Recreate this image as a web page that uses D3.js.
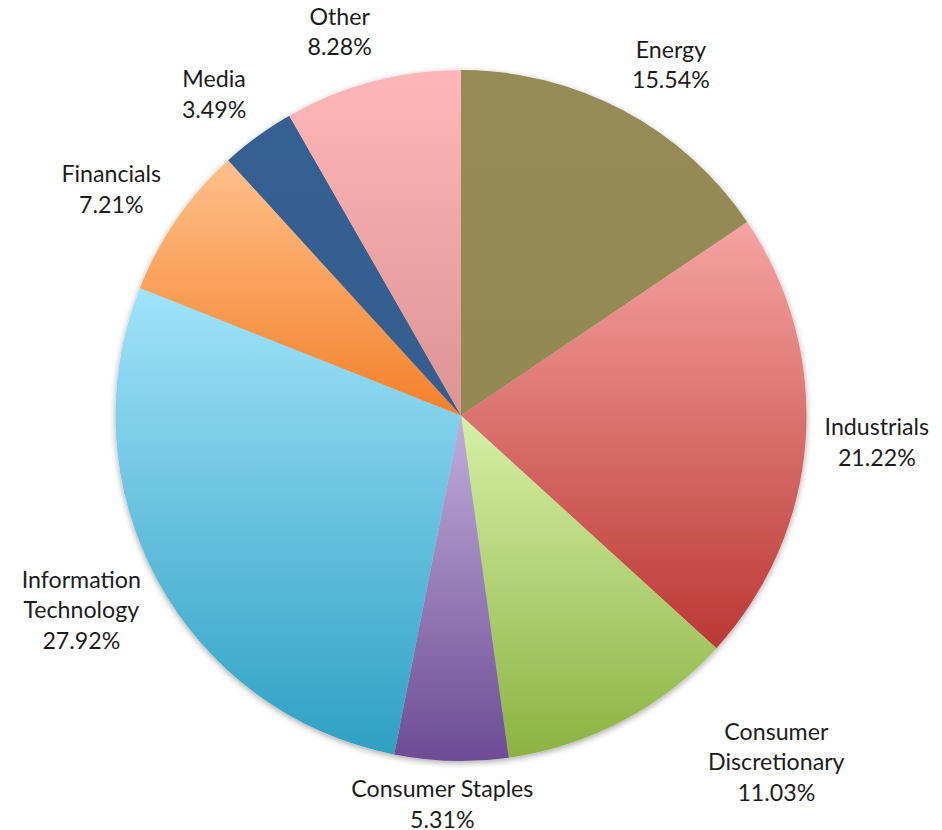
<!DOCTYPE html>
<html>
<head>
    <meta charset='utf-8' />
    <title>Sector allocation pie</title>
    <script charset="utf-8" src="https://d3js.org/d3.v7.min.js"></script>
    <style>
        body { margin: 0; background: #fff; }
        svg text { font-family: Lato, 'Open Sans', sans-serif; font-size: 23.2px; fill: #1c1c1c; }
    </style>
</head>
<body>
<div id="chart"></div>
<script>
    // data, clockwise from 12 o'clock
    var sectors = ["Energy", "Industrials", "Consumer Discretionary", "Consumer Staples",
        "Information Technology", "Financials", "Media", "Other"];
    var shares = [15.54, 21.22, 11.03, 5.31, 27.92, 7.21, 3.49, 8.28];
    // how each label is broken into lines
    var labelLines = [["Energy"], ["Industrials"], ["Consumer", "Discretionary"], ["Consumer Staples"],
        ["Information", "Technology"], ["Financials"], ["Media"], ["Other"]];
    // gradient top / bottom colours per slice
    var topColors = ["#958b56", "#f6a4a2", "#d6f0a6", "#c1aedb", "#a0e3fb", "#ffc08a", "#366092", "#ffb7b7"];
    var bottomColors = ["#938953", "#bb3833", "#8bb342", "#6d4b95", "#2ea0c2", "#f4802a", "#345d8e", "#db9493"];

    var width = 942, height = 830;
    var cx = 461, cy = 415.5, r = 345.5;

    var svg = d3.select("#chart").append("svg")
        .attr("width", width)
        .attr("height", height);

    var defs = svg.append("defs");

    // soft shadow round the pie
    var f = defs.append("filter").attr("id", "shadow")
        .attr("x", "-10%").attr("y", "-10%").attr("width", "120%").attr("height", "120%");
    f.append("feDropShadow").attr("dx", 0).attr("dy", 2).attr("stdDeviation", 3)
        .attr("flood-color", "#000").attr("flood-opacity", 0.35);

    sectors.forEach(function (s, i) {
        var g = defs.append("linearGradient").attr("id", "grad" + i)
            .attr("x1", 0).attr("y1", 0).attr("x2", 0).attr("y2", 1);
        g.append("stop").attr("offset", "0%").attr("stop-color", topColors[i]);
        g.append("stop").attr("offset", "100%").attr("stop-color", bottomColors[i]);
    });

    var data = sectors.map(function (s, i) { return { name: s, value: shares[i], idx: i }; });

    var pie = d3.pie().sort(null).value(function (d) { return d.value; });
    var arc = d3.arc().innerRadius(0).outerRadius(r);
    var arcs = pie(data);

    var g = svg.append("g").attr("transform", "translate(" + cx + "," + cy + ")");

    g.append("g").attr("filter", "url(#shadow)")
        .selectAll("path")
        .data(arcs)
        .enter()
        .append("path")
        .attr("d", arc)
        .attr("fill", function (d) { return "url(#grad" + d.data.idx + ")"; });

    // labels sit on a ring just outside the rim, pushed off by half their box
    var lineH = 30.7, baseOff = lineH * 0.71, gap = 19, bottomLimit = height - 20, slideGap = 45;
    function soft(v) { return Math.max(-1, Math.min(1, v / 0.3)); }

    var labels = g.append("g");
    arcs.forEach(function (d) {
        var i = d.data.idx;
        var lines = labelLines[i].concat([shares[i].toFixed(2) + "%"]);
        var t = labels.append("text").attr("text-anchor", "middle");
        var w = 0;
        lines.forEach(function (l, k) {
            var ts = t.append("tspan").attr("x", 0).attr("y", k * lineH + baseOff).text(l);
            w = Math.max(w, ts.node().getComputedTextLength());
        });
        var h = lines.length * lineH;
        var a = (d.startAngle + d.endAngle) / 2;
        var sa = Math.sin(a), ca = Math.cos(a);
        var R = r + gap;
        var px = sa * R, py = -ca * R;
        var mx = px + soft(sa) * w / 2;
        var my = py - ca * h / 2;

        // a label off the bottom edge slides up round the pie, keeping clear of it
        if (cy + my + h / 2 > bottomLimit && Math.abs(sa) > 0.2) {
            var top = bottomLimit - h - cy;
            var R2 = r + slideGap;
            var dx = Math.sqrt(Math.max(0, R2 * R2 - top * top));
            my = top + h / 2;
            mx = (sa > 0 ? dx + w / 2 : -dx - w / 2);
        }
        // keep the last baseline inside the picture
        var lastBase = cy + my - h / 2 + (lines.length - 1) * lineH + baseOff;
        if (lastBase > height - 2) my -= lastBase - (height - 2);

        t.attr("transform", "translate(" + mx + "," + (my - h / 2) + ")");
    });
</script>
</body>
</html>
